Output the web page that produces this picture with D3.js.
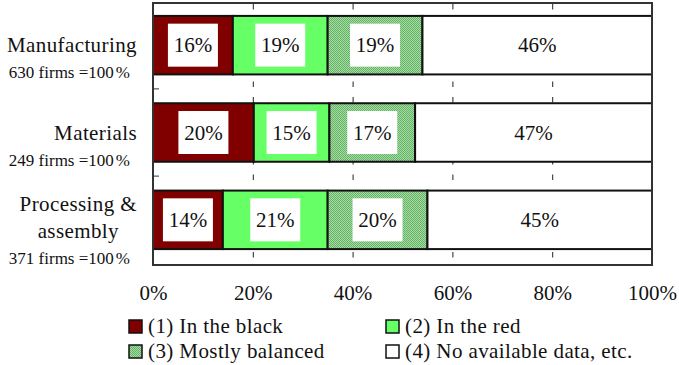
<!DOCTYPE html>
<html>
<head>
<meta charset="utf-8">
<script src="https://cdn.jsdelivr.net/npm/d3@7"></script>
<style>
  body { margin: 0; background: #fff; }
  svg text { font-family: 'Liberation Serif', Tinos, 'Times New Roman', 'DejaVu Serif', serif; fill: #111; }
</style>
</head>
<body>
<svg id="chart" width="679" height="365"></svg>
<script>
// Business results by industry, share of firms (%)
const categories = ["Manufacturing", "Materials", "Processing & assembly"];
const categoryLines = [["Manufacturing"], ["Materials"], ["Processing &", "assembly"]];
const firmCounts = [630, 249, 371];
const seriesNames = ["(1) In the black", "(2) In the red", "(3) Mostly balanced", "(4) No available data, etc."];
const inTheBlack = [16, 20, 14];
const inTheRed = [19, 15, 21];
const mostlyBalanced = [19, 17, 20];
const noData = [46, 47, 45];
const tickValues = [0, 0.2, 0.4, 0.6, 0.8, 1];

const FONT = "'Liberation Serif', Tinos, 'Times New Roman', 'DejaVu Serif', serif";
const keys = ["black", "red", "balanced", "none"];
const rows = categories.map((c, i) => ({
  cat: c,
  black: inTheBlack[i],
  red: inTheRed[i],
  balanced: mostlyBalanced[i],
  none: noData[i]
}));

const svg = d3.select("#chart");
const frame = { left: 153, right: 652, top: 3, bottom: 265 };

const x = d3.scaleLinear().domain([0, 1]).range([frame.left, frame.right]);
const y = d3.scaleBand().domain(categories)
  .range([1.5, 263.5]).paddingInner(0.33).paddingOuter(0.165);

// checkered fill for "mostly balanced"
const defs = svg.append("defs");
const pat = defs.append("pattern").attr("id", "checker")
  .attr("width", 2).attr("height", 2).attr("patternUnits", "userSpaceOnUse");
pat.append("rect").attr("width", 2).attr("height", 2).attr("fill", "#a9dba9");
pat.append("rect").attr("width", 1).attr("height", 1).attr("fill", "#62b462");
pat.append("rect").attr("x", 1).attr("y", 1).attr("width", 1).attr("height", 1).attr("fill", "#62b462");

const fills = { black: "#800000", red: "#66ff66", balanced: "url(#checker)", none: "#ffffff" };

// dashed vertical gridlines
svg.append("g")
  .attr("transform", `translate(0,${frame.top})`)
  .call(d3.axisBottom(x).tickValues(tickValues.slice(1, -1))
    .tickSize(frame.bottom - frame.top).tickFormat(""))
  .call(g => g.select(".domain").remove())
  .call(g => g.selectAll(".tick line")
    .attr("stroke", "#222").attr("stroke-width", 1)
    .attr("stroke-dasharray", "5.5,10").attr("stroke-dashoffset", -1));

// small inward ticks at category boundaries
const boundaries = categories.slice(1).map(c => y(c) - y.step() * y.paddingInner() / 2);
svg.append("g").selectAll("line").data(boundaries).join("line")
  .attr("x1", frame.left).attr("x2", frame.left + 6)
  .attr("y1", d => d).attr("y2", d => d)
  .attr("stroke", "#777").attr("stroke-width", 1.5);

// 100% stacked bars
const stacked = d3.stack().keys(keys).offset(d3.stackOffsetExpand)(rows);

const layers = svg.append("g").selectAll("g").data(stacked).join("g")
  .attr("fill", d => fills[d.key]);

layers.selectAll("rect").data(d => d).join("rect")
  .attr("x", d => x(d[0]))
  .attr("y", d => y(d.data.cat))
  .attr("width", d => x(d[1]) - x(d[0]))
  .attr("height", y.bandwidth())
  .attr("stroke", "#111").attr("stroke-width", 2);

// value labels (white boxes on coloured segments)
const boxW = 50, boxH = 43;
stacked.forEach(layer => {
  layer.forEach(d => {
    const cx = (x(d[0]) + x(d[1])) / 2;
    const cy = y(d.data.cat) + y.bandwidth() / 2;
    if (layer.key !== "none") {
      svg.append("rect")
        .attr("x", cx - boxW / 2).attr("y", cy - boxH / 2)
        .attr("width", boxW).attr("height", boxH)
        .attr("fill", "#fff");
    }
    svg.append("text")
      .attr("x", cx).attr("y", cy + 7)
      .attr("text-anchor", "middle")
      .style("font-family", FONT)
      .style("font-size", "21px")
      .text(d.data[layer.key] + "%");
  });
});

// plot frame
svg.append("rect")
  .attr("x", frame.left).attr("y", frame.top)
  .attr("width", frame.right - frame.left).attr("height", frame.bottom - frame.top)
  .attr("fill", "none").attr("stroke", "#333").attr("stroke-width", 2);

// x axis labels
svg.append("g")
  .attr("transform", "translate(0,285)")
  .call(d3.axisBottom(x).tickValues(tickValues).tickSize(0).tickPadding(0)
    .tickFormat(d3.format(".0%")))
  .call(g => g.select(".domain").remove())
  .call(g => g.attr("font-family", null).attr("font-size", null))
  .call(g => g.selectAll("text")
    .style("font-family", FONT)
    .style("font-size", "21px").style("fill", "#111"));

// category labels
const labelRight = 137;
categories.forEach((c, i) => {
  const lines = categoryLines[i];
  const cy = y(c) + y.bandwidth() / 2;
  const first = cy + 7 - (lines.length - 1) * 15.7;
  const t = svg.append("text").attr("text-anchor", "middle")
    .style("font-family", FONT).style("font-size", "21px")
    .style("letter-spacing", "0.4px");
  lines.forEach((ln, j) => t.append("tspan").attr("x", 0).attr("y", first + j * 27.3).text(ln));
  const w = t.node().getBBox().width;
  t.attr("transform", `translate(${labelRight - w / 2},0)`);

  const sub = svg.append("text")
    .attr("x", 130).attr("y", first + (lines.length - 1) * 27.3 + 26)
    .attr("text-anchor", "end")
    .style("font-family", FONT).style("font-size", "17px")
    .text(`${firmCounts[i]} firms =100`);
  sub.append("tspan").attr("dx", 2).text("%");
});

// legend
const legendCols = [129, 386], legendRows = [320, 345], sw = 13;
seriesNames.forEach((name, i) => {
  const lx = legendCols[i % 2], ly = legendRows[Math.floor(i / 2)];
  svg.append("rect")
    .attr("x", lx).attr("y", ly).attr("width", sw).attr("height", sw)
    .attr("fill", fills[keys[i]]).attr("stroke", "#111").attr("stroke-width", 1.5);
  svg.append("text")
    .attr("x", lx + 19).attr("y", ly + 12.5)
    .style("font-family", FONT).style("font-size", "21px")
    .style("letter-spacing", "0.4px")
    .text(name);
});
</script>
</body>
</html>
